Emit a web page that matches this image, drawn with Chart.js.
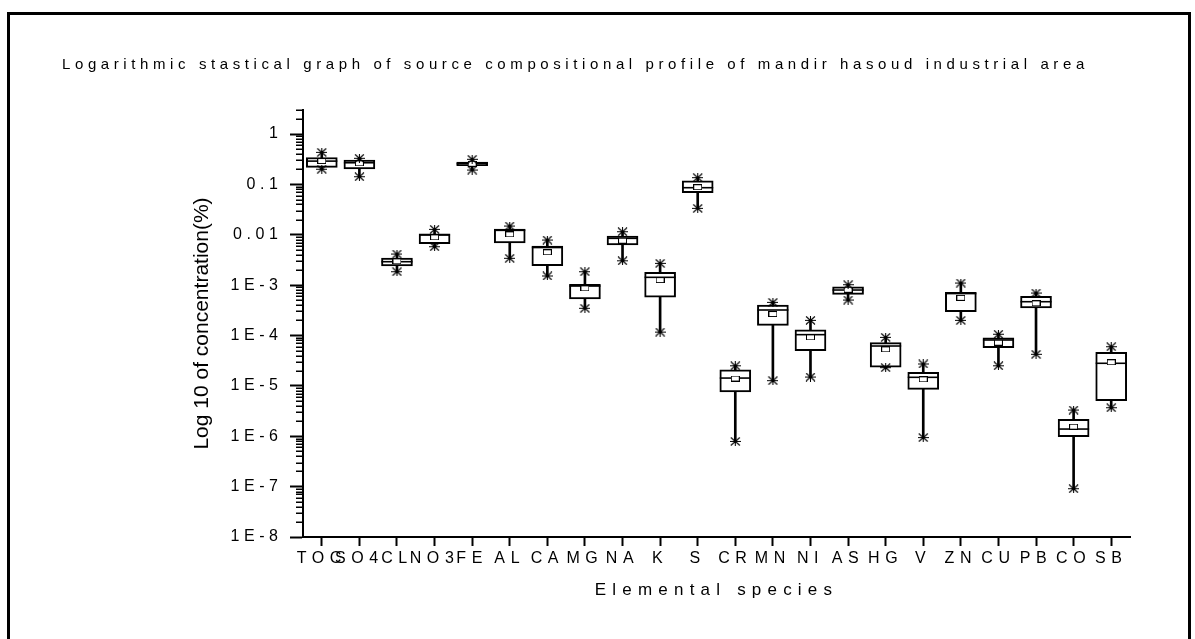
<!DOCTYPE html>
<html><head><meta charset="utf-8">
<script src="https://cdn.jsdelivr.net/npm/chart.js@4.4.1/dist/chart.umd.min.js"></script>
<style>
html,body{margin:0;padding:0;background:#fff;overflow:hidden}
#frame{position:absolute;left:7px;top:12px;width:1184px;height:700px;border:3px solid #000;box-sizing:border-box}
#c{position:absolute;left:0;top:0}
</style></head><body>
<div id="frame"></div>
<canvas id="c" width="1195" height="639"></canvas>
<script>
// ---- data ----
const categories = ['TOC','SO4','CL','NO3','FE','AL','CA','MG','NA','K','S','CR','MN','NI','AS','HG','V','ZN','CU','PB','CO','SB'];
const minVals    = [0.200, 0.142, 0.00185, 0.0058, 0.193, 0.00341, 0.00152, 0.000347, 0.00305, 0.000117, 0.0335, 7.9e-7, 1.27e-5, 1.5e-5, 5.07e-4, 2.3e-5, 9.4e-7, 2.0e-4, 2.51e-5, 4.24e-5, 9.1e-8, 3.69e-6];
const q1Vals     = [0.218, 0.202, 0.00240, 0.00664, 0.235, 0.00686, 0.00243, 0.00053, 0.00626, 0.00058, 0.0684, 7.55e-6, 1.59e-4, 4.99e-5, 6.58e-4, 2.34e-5, 8.55e-6, 2.97e-4, 5.73e-5, 3.52e-4, 9.8e-7, 5.08e-6];
const medianVals = [0.290, 0.269, 0.00292, 0.0099, 0.257, 0.01225, 0.00558, 0.00096, 0.0085, 0.00143, 0.0860, 1.43e-5, 3.21e-4, 1.04e-4, 8.0e-4, 6.19e-5, 1.48e-5, 6.8e-4, 8.14e-5, 4.69e-4, 1.39e-6, 2.81e-5];
const meanVals   = [0.291, 0.262, 0.00297, 0.0089, 0.257, 0.0102, 0.00449, 0.000865, 0.00762, 0.00126, 0.0880, 1.40e-5, 2.67e-4, 9.2e-5, 8.1e-4, 5.32e-5, 1.35e-5, 5.6e-4, 7.2e-5, 4.35e-4, 1.55e-6, 2.94e-5];
const q3Vals     = [0.342, 0.305, 0.00345, 0.0105, 0.278, 0.0130, 0.00598, 0.00104, 0.00945, 0.00180, 0.118, 2.09e-5, 4.03e-4, 1.30e-4, 9.3e-4, 7.2e-5, 1.86e-5, 7.2e-4, 9.04e-5, 6.0e-4, 2.17e-6, 4.64e-5];
const maxVals    = [0.433, 0.330, 0.00415, 0.0128, 0.315, 0.0149, 0.00787, 0.00185, 0.0115, 0.00271, 0.136, 2.51e-5, 4.56e-4, 2.0e-4, 1.02e-3, 9.2e-5, 2.72e-5, 1.10e-3, 1.06e-4, 6.98e-4, 3.32e-6, 6.0e-5];
const yTickValues = [1e-8, 1e-7, 1e-6, 1e-5, 1e-4, 1e-3, 1e-2, 1e-1, 1];
const yTickLabels = ['1E-8', '1E-7', '1E-6', '1E-5', '1E-4', '1E-3', '0.01', '0.1', '1'];

const titleText = 'Logarithmic stastical graph of source compositional profile of mandir hasoud industrial area';
const xTitleText = 'Elemental species';
const yTitleText = 'Log 10 of concentration(%)';
const FONT = 'Liberation Sans';

// ---- letter spacing per text ----
const spacing = new Map();
spacing.set(titleText, '4.6px');
spacing.set(xTitleText, '6.2px');
yTickLabels.forEach(t => spacing.set(t, '4.6px'));
categories.forEach(t => spacing.set(t, '5.6px'));

const canvas = document.getElementById('c');
const ctx = canvas.getContext('2d');
const proto = CanvasRenderingContext2D.prototype;
ctx.fillText = function (t, x, y, mw) {
  const prev = this.letterSpacing;
  this.letterSpacing = spacing.get(String(t)) || '0px';
  proto.fillText.call(this, t, x, y, mw);
  this.letterSpacing = prev;
};
ctx.measureText = function (t) {
  const prev = this.letterSpacing;
  this.letterSpacing = spacing.get(String(t)) || '0px';
  const m = proto.measureText.call(this, t);
  this.letterSpacing = prev;
  return m;
};

// ---- marker images ----
function starMarker() {
  const c = document.createElement('canvas'); c.width = 11; c.height = 9;
  const g = c.getContext('2d'); g.strokeStyle = '#000'; g.lineWidth = 1.05;
  g.beginPath();
  g.moveTo(0, 4.5); g.lineTo(11, 4.5);
  g.moveTo(1, 0.5); g.lineTo(10, 8.5);
  g.moveTo(10, 0.5); g.lineTo(1, 8.5);
  g.moveTo(5.5, 0); g.lineTo(5.5, 9);
  g.stroke();
  return c;
}
function meanMarker() {
  const c = document.createElement('canvas'); c.width = 9; c.height = 6;
  const g = c.getContext('2d');
  g.fillStyle = '#fff'; g.fillRect(0, 0, 9, 6);
  g.strokeStyle = '#000'; g.lineWidth = 1; g.strokeRect(0.5, 0.5, 8, 5);
  return c;
}
const star = starMarker();
const meanImg = meanMarker();

const isDecade = v => Math.abs(Math.log10(v) - Math.round(Math.log10(v))) < 1e-9;
const yAllTicks = [];
for (let e = -8; e <= 0; e++) {
  for (let m = 1; m <= 9; m++) {
    const v = m * Math.pow(10, e);
    if (e === 0 && m > 3) break;
    yAllTicks.push(+v.toPrecision(6));
  }
}

const minorTicks = {
  id: 'minorTicks',
  afterDraw(chart) {
    const y = chart.scales.y; const c = chart.ctx;
    c.save(); c.strokeStyle = '#000'; c.lineWidth = 1.5;
    y.ticks.forEach(t => {
      if (isDecade(t.value)) return;
      const py = Math.round(y.getPixelForValue(t.value)) + 0.25;
      c.beginPath(); c.moveTo(y.right - 7, py); c.lineTo(y.right, py); c.stroke();
    });
    c.restore();
  }
};

Chart.defaults.color = '#000';
Chart.defaults.font.family = FONT;

new Chart(ctx, {
  type: 'bar',
  data: {
    labels: categories,
    datasets: [
      { type: 'bar', label: 'whisker', data: categories.map((_, i) => [minVals[i], maxVals[i]]),
        backgroundColor: '#000', borderWidth: 0, barThickness: 2, grouped: false, order: 5 },
      { type: 'bar', label: 'box', data: categories.map((_, i) => [q1Vals[i], q3Vals[i]]),
        backgroundColor: '#fff', borderColor: '#000', borderWidth: 2, borderSkipped: false,
        barThickness: 31, grouped: false, order: 4 },
      { type: 'line', label: 'median', data: medianVals, showLine: false,
        pointStyle: 'line', pointRadius: 15.5, pointBorderWidth: 1.6, pointBorderColor: '#000', order: 3 },
      { type: 'line', label: 'mean', data: meanVals, showLine: false,
        pointStyle: meanImg, pointRadius: 4, order: 2 },
      { type: 'line', label: 'max', data: maxVals, showLine: false,
        pointStyle: star, pointRadius: 5, order: 1 },
      { type: 'line', label: 'min', data: minVals, showLine: false,
        pointStyle: star, pointRadius: 5, order: 1 }
    ]
  },
  options: {
    responsive: false,
    animation: false,
    events: [],
    layout: { padding: { left: 62, right: 65, top: 0, bottom: 0 } },
    plugins: {
      legend: { display: false },
      tooltip: { enabled: false },
      title: {
        display: true, text: titleText, align: 'start', color: '#000',
        font: { family: FONT, size: 15, weight: 'normal' },
        padding: { top: 56, bottom: 36 }
      }
    },
    scales: {
      x: {
        type: 'category', offset: true,
        grid: { display: true, drawOnChartArea: false, offset: false, drawTicks: true,
                tickLength: 9, tickWidth: 2, tickColor: '#000' },
        border: { display: true, color: '#000', width: 2 },
        ticks: { autoSkip: false, maxRotation: 0, minRotation: 0, padding: 2.5,
                 color: '#000', font: { family: FONT, size: 16 } },
        title: { display: true, text: xTitleText, color: '#000',
                 font: { family: FONT, size: 17 }, padding: { top: 0, bottom: 38 } },
        afterFit(s) { s.height = 102; }
      },
      y: {
        type: 'logarithmic', min: 1e-8, max: 3,
        afterBuildTicks(s) { s.ticks = yAllTicks.map(v => ({ value: v })); },
        grid: { display: true, drawOnChartArea: false, drawTicks: true, tickLength: 13, tickWidth: 2,
                tickColor: c => (c.tick && isDecade(c.tick.value)) ? '#000' : 'rgba(0,0,0,0)' },
        border: { display: true, color: '#000', width: 2 },
        ticks: {
          autoSkip: false, padding: 7.4, color: '#000', font: { family: FONT, size: 16 },
          callback: (v) => {
            const i = yTickValues.findIndex(t => Math.abs(Math.log10(t) - Math.log10(v)) < 1e-9);
            return i >= 0 ? yTickLabels[i] : '';
          }
        },
        title: { display: true, text: yTitleText, color: '#000',
                 font: { family: FONT, size: 21 }, padding: { top: 127.4, bottom: 0 } },
        afterFit(s) { s.width = 241; }
      }
    }
  },
  plugins: [minorTicks]
});
</script>
</body></html>
